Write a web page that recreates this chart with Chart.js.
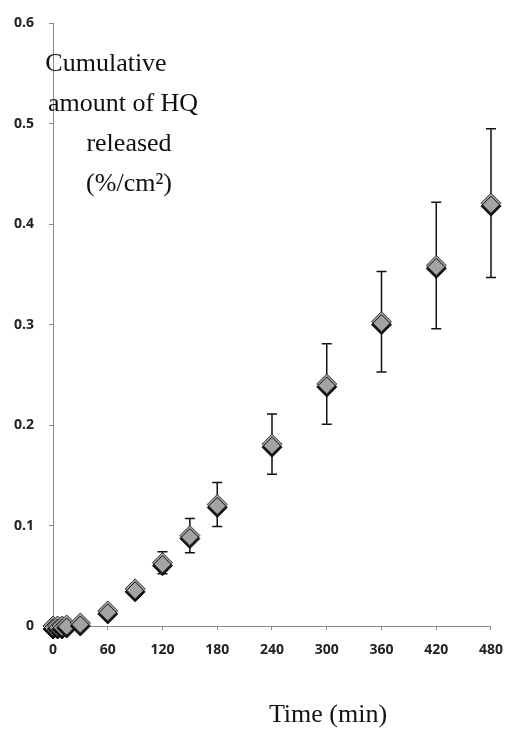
<!DOCTYPE html>
<html>
<head>
<meta charset="utf-8">
<script src="https://cdn.jsdelivr.net/npm/chart.js@4"></script>
<style>
  html, body { margin: 0; padding: 0; background: #fff; }
  #wrap { width: 515px; height: 737px; }
</style>
</head>
<body>
<div id="wrap"><canvas id="chart" width="515" height="737"></canvas></div>
<script>
// data
const times    = [0, 5, 10, 15, 30, 60, 90, 120, 150, 180, 240, 300, 360, 420, 480];
const released = [0, 0, 0, 0.001, 0.003, 0.015, 0.037, 0.063, 0.09, 0.121, 0.181, 0.241, 0.303, 0.359, 0.421];
const errors   = [0, 0, 0, 0, 0, 0.002, 0.003, 0.011, 0.017, 0.022, 0.03, 0.04, 0.05, 0.063, 0.074];
const xTicks   = [0, 60, 120, 180, 240, 300, 360, 420, 480];
const yTitle   = ['Cumulative', 'amount of HQ', 'released', '(%/cm²)'];
const xTitle   = 'Time (min)';

const points = times.map((t, i) => ({ x: t, y: released[i] }));

// whiskers behind the diamonds, then a dark drop shadow for the markers
const errorBars = {
  id: 'errorBars',
  beforeDatasetsDraw(chart) {
    const { ctx, scales: { x, y } } = chart;
    ctx.save();
    ctx.strokeStyle = '#111';
    ctx.lineWidth = 1.5;
    times.forEach((t, i) => {
      if (errors[i] <= 0) return;
      const px = x.getPixelForValue(t);
      const top = y.getPixelForValue(released[i] + errors[i]);
      const bot = y.getPixelForValue(released[i] - errors[i]);
      ctx.beginPath();
      ctx.moveTo(px, top); ctx.lineTo(px, bot);
      ctx.moveTo(px - 5, top); ctx.lineTo(px + 5, top);
      ctx.moveTo(px - 5, bot); ctx.lineTo(px + 5, bot);
      ctx.stroke();
    });
    ctx.restore();
    ctx.save();
    ctx.shadowColor = '#111';
    ctx.shadowOffsetY = 3;
    ctx.shadowOffsetX = 0;
    ctx.shadowBlur = 0;
  },
  afterDatasetsDraw(chart) {
    chart.ctx.restore();
  }
};

// axis titles sit inside / below the plot like the original text boxes
const titles = {
  id: 'titles',
  afterDraw(chart) {
    const { ctx, chartArea } = chart;
    const centers = [53, 70, 76, 76];
    ctx.save();
    ctx.fillStyle = '#111';
    ctx.font = '26px "Liberation Serif", "Times New Roman", serif';
    ctx.textAlign = 'center';
    ctx.textBaseline = 'middle';
    yTitle.forEach((line, i) => {
      ctx.fillText(line, chartArea.left + centers[i], chartArea.top + 41 + i * 40);
    });
    ctx.fillText(xTitle, chartArea.left + 275, chartArea.bottom + 89);
    ctx.restore();
  }
};

new Chart(document.getElementById('chart'), {
  type: 'scatter',
  data: {
    datasets: [{
      data: points,
      pointStyle: 'rectRot',
      pointRadius: 10,
      pointHoverRadius: 10,
      backgroundColor: '#a3a3a3',
      borderColor: '#333',
      borderWidth: 1,
      clip: false
    }]
  },
  options: {
    responsive: false,
    animation: false,
    events: [],
    layout: { padding: { top: 15, right: 19, left: 0, bottom: 0 } },
    plugins: { legend: { display: false }, tooltip: { enabled: false } },
    scales: {
      x: {
        type: 'linear',
        min: 0, max: 480,
        afterBuildTicks: s => { s.ticks = xTicks.map(v => ({ value: v })); },
        afterFit: s => { s.height = 111; },
        border: { color: '#8a8a8a', width: 1, dash: [1, 1] },
        grid: { drawOnChartArea: false, tickLength: 4, color: '#8a8a8a' },
        ticks: { color: '#222', padding: 12, font: { family: '"Open Sans", sans-serif', size: 14, weight: 'bold' } }
      },
      y: {
        min: 0, max: 0.6,
        ticks: {
          stepSize: 0.1,
          color: '#222', padding: 15,
          font: { family: '"Open Sans", sans-serif', size: 14, weight: 'bold' },
          callback: v => Number(v.toFixed(1))
        },
        afterFit: s => { s.width = 53; },
        border: { color: '#8a8a8a', width: 1, dash: [1, 1] },
        grid: { drawOnChartArea: false, tickLength: 4, color: '#8a8a8a' }
      }
    }
  },
  plugins: [errorBars, titles]
});
</script>
</body>
</html>
